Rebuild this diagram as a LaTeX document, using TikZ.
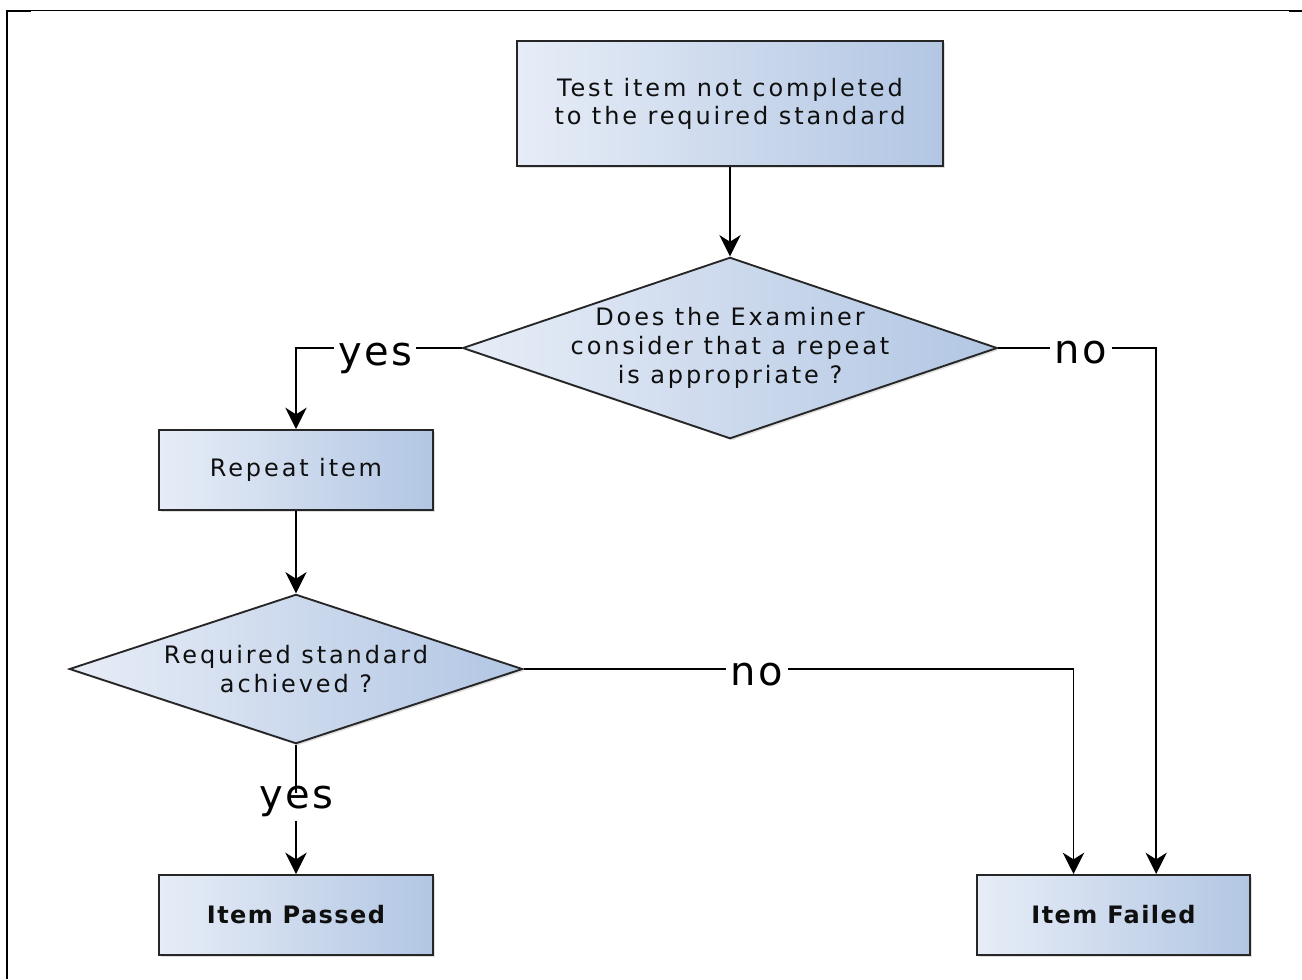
\documentclass[tikz,border=0pt]{standalone}
\usepackage{fontspec}
\setmainfont{DejaVu Sans}[LetterSpace=6]
\newfontfamily\boxfont{DejaVu Sans}[LetterSpace=12]
\usetikzlibrary{shapes.geometric,arrows.meta,shadows}

\definecolor{boxleft}{RGB}{231,237,247}
\definecolor{boxright}{RGB}{178,198,227}
\definecolor{inktext}{RGB}{15,15,15}

\tikzset{every picture/.style={line width=0.75pt}}
\tikzset{
	flowbox/.style={rectangle, draw=black!85, line width=1.5pt, left color=boxleft, right color=boxright,
		drop shadow={opacity=0.25, shadow xshift=1.5pt, shadow yshift=-1.5pt},
		align=center, text=inktext, font=\boxfont\fontsize{18}{21}\selectfont},
	decision/.style={diamond, draw=black!85, line width=1.4pt, left color=boxleft, right color=boxright,
		drop shadow={opacity=0.25, shadow xshift=1.5pt, shadow yshift=-1.5pt},
		inner sep=-5pt, aspect=2.9, align=center, text=inktext, font=\boxfont\fontsize{18}{22}\selectfont},
	answer/.style={inner sep=3pt, text=black, text height=0.8em, font=\fontsize{30}{30}\selectfont},
	link/.style={line width=1.2pt, black},
	linkarrow/.style={link, -{Stealth[length=16pt, width=16pt, inset=5pt]}}
}

\begin{document}
\begin{tikzpicture}[x=0.75pt,y=0.75pt,yscale=-1,xscale=1]
	\useasboundingbox (0,0) rectangle (1302,979);

	%Frame lines
	\draw [line width=0.75pt] (7,10) -- (1302,10) ;
	\draw [line width=1.5pt] (7,9.5) -- (7,979) ;
	\draw [line width=1.5pt] (7,10.5) -- (31,10.5) ;
	\draw [line width=1.5pt] (1289,10.5) -- (1302,10.5) ;

	%Shapes
	\node [flowbox, minimum width=320pt, minimum height=94pt] (start) at (730,103.5) {Test item not completed\\to the required standard};
	\node [decision, minimum width=401pt, minimum height=136pt] (examiner) at (730,348) {Does the Examiner\\consider that a repeat\\is appropriate ?};
	\node [flowbox, minimum width=205pt, minimum height=60pt] (repeat) at (296,470) {Repeat item};
	\node [decision, minimum width=340pt, minimum height=112pt] (achieved) at (296,669) {Required standard\\achieved ?};
	\node [flowbox, minimum width=205pt, minimum height=60pt, font=\fontsize{18}{21}\bfseries] (passed) at (296,915) {Item Passed};
	\node [flowbox, minimum width=205pt, minimum height=60pt, font=\fontsize{18}{21}\bfseries] (failed) at (1113.5,915) {Item Failed};

	% Text Node
	\node [answer, anchor=base] (yesA) at (375,365) {yes};
	\node [answer, anchor=base] (noA) at (1081,363) {no};
	\node [answer, anchor=base] (noB) at (757,685) {no};
	\node [answer, anchor=base] (yesB) at (296,808) {yes};

	%Straight Lines
	\draw [linkarrow] (start) -- (examiner) ;
	\draw [link] (examiner.west) -- (examiner.west -| yesA.east) ;
	\draw [linkarrow] (examiner.west -| yesA.west) -| (repeat.north) ;
	\draw [link] (examiner.east) -- (examiner.east -| noA.west) ;
	\draw [linkarrow] (examiner.east -| noA.east) -| ([xshift=32pt]failed.north) ;
	\draw [linkarrow] (repeat) -- (achieved) ;
	\draw [link] (achieved.east) -- (achieved.east -| noB.west) ;
	\draw [linkarrow] (achieved.east -| noB.east) -| ([xshift=-30pt]failed.north) ;
	\draw [link] (achieved.south) -- (achieved.south |- yesB.north) ;
	\draw [linkarrow] (achieved.south |- yesB.south) -- (passed.north) ;

\end{tikzpicture}
\end{document}
